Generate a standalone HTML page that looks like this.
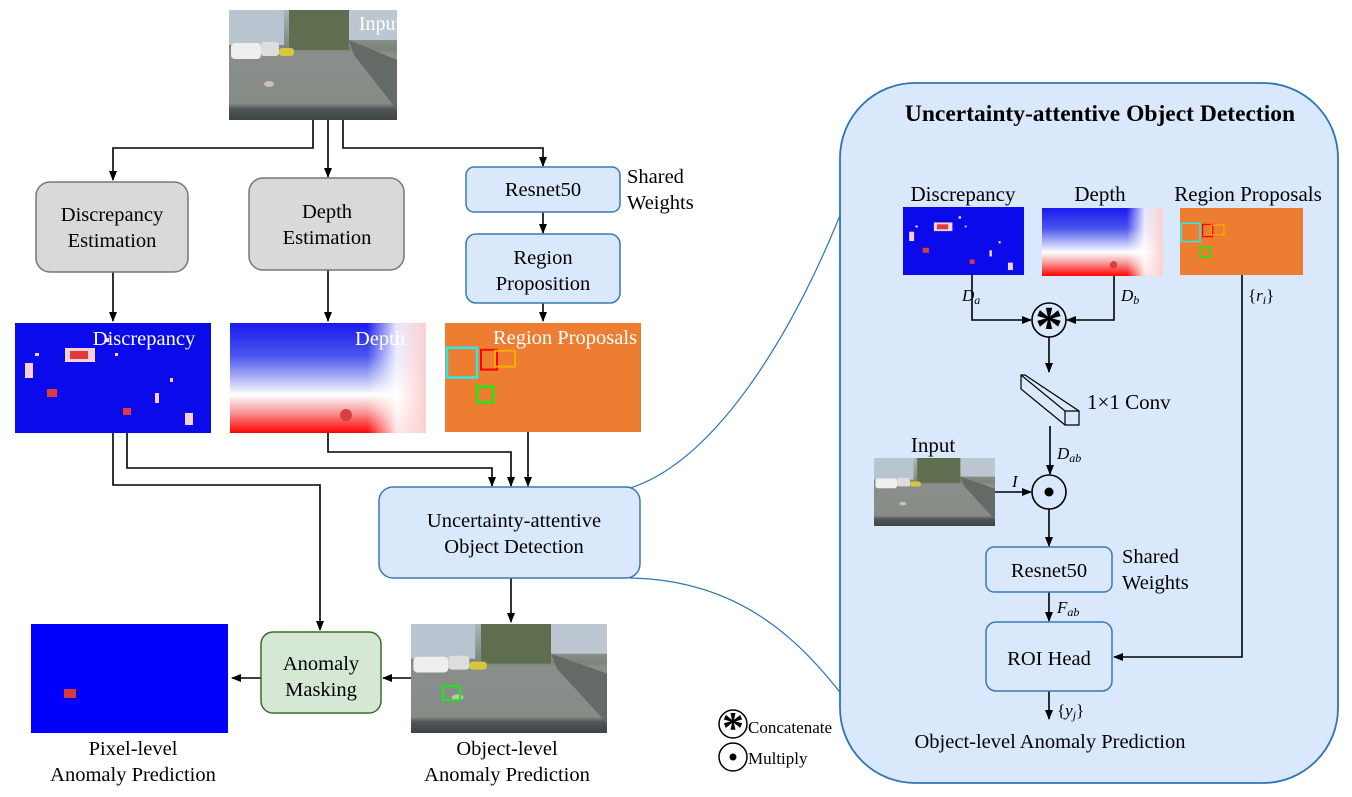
<!DOCTYPE html>
<html><head><meta charset="utf-8"><style>
body{margin:0;background:#fff}
svg{display:block;font-family:"Liberation Serif",serif}
</style></head><body>
<svg width="1352" height="797" viewBox="0 0 1352 797" xmlns="http://www.w3.org/2000/svg">
<defs>
<marker id="a" markerWidth="10" markerHeight="10" refX="9" refY="5" orient="auto" markerUnits="userSpaceOnUse"><path d="M0,1 L10,5 L0,9 Z" fill="#000"/></marker>
<linearGradient id="road" x1="0" y1="0" x2="0" y2="1"><stop offset="0" stop-color="#a9b4bf"/><stop offset="0.35" stop-color="#7d857a"/><stop offset="0.4" stop-color="#8a8f8c"/><stop offset="0.85" stop-color="#878b86"/><stop offset="0.9" stop-color="#4f5456"/><stop offset="1" stop-color="#3f4446"/></linearGradient>
<linearGradient id="dep" x1="0" y1="0" x2="0" y2="1"><stop offset="0" stop-color="#1a1aee"/><stop offset="0.3" stop-color="#4a55ee"/><stop offset="0.55" stop-color="#c8ccf8"/><stop offset="0.65" stop-color="#ffffff"/><stop offset="0.8" stop-color="#f7a0a0"/><stop offset="1" stop-color="#ff0000"/></linearGradient>
<linearGradient id="depR" x1="0" y1="0" x2="1" y2="0"><stop offset="0.7" stop-color="#fff" stop-opacity="0"/><stop offset="0.85" stop-color="#fff" stop-opacity="0.9"/><stop offset="1" stop-color="#fbd0d0" stop-opacity="1"/></linearGradient>
<symbol id="photo" viewBox="0 0 168 110" preserveAspectRatio="none">
<rect width="168" height="110" fill="url(#road)"/>
<rect x="0" y="0" width="55" height="35" fill="#b8c4d0"/>
<rect x="60" y="0" width="60" height="40" fill="#5f6e4e"/>
<rect x="120" y="0" width="48" height="30" fill="#bcc7d1"/>
<polygon points="120,30 168,50 168,100 125,45" fill="#666a66"/>
<rect x="2" y="33" width="30" height="16" rx="4" fill="#eee"/>
<rect x="32" y="32" width="18" height="14" rx="3" fill="#ddd"/>
<rect x="50" y="38" width="15" height="8" rx="3" fill="#d9c640"/>
<ellipse cx="40" cy="74" rx="5" ry="3" fill="#c9c0b3"/>
</symbol>
<symbol id="disc" viewBox="0 0 196 110" preserveAspectRatio="none">
<rect width="196" height="110" fill="#0a0aea"/>
<g fill="#f5d0d5"><rect x="50" y="25" width="30" height="14"/><rect x="10" y="40" width="8" height="15"/><rect x="170" y="90" width="8" height="12"/><rect x="140" y="70" width="4" height="10"/><rect x="90" y="15" width="4" height="4"/><rect x="100" y="30" width="3" height="3"/><rect x="155" y="55" width="3" height="4"/><rect x="20" y="30" width="4" height="3"/></g>
<g fill="#e03a3a"><rect x="55" y="28" width="18" height="8"/><rect x="32" y="66" width="10" height="8"/><rect x="108" y="85" width="8" height="7"/></g>
</symbol>
<symbol id="depth" viewBox="0 0 196 110" preserveAspectRatio="none">
<rect width="196" height="110" fill="url(#dep)"/>
<rect width="196" height="110" fill="url(#depR)"/>
<circle cx="116" cy="92" r="6" fill="#d84040"/>
</symbol>
<symbol id="reg" viewBox="0 0 196 110" preserveAspectRatio="none">
<rect width="196" height="110" fill="#ed7d31"/>
<rect x="2" y="25" width="30" height="30" fill="none" stroke="#22eeee" stroke-width="2.5"/>
<rect x="36" y="27" width="16" height="20" fill="none" stroke="#ff0000" stroke-width="2"/>
<rect x="50" y="28" width="20" height="16" fill="none" stroke="#ffaa00" stroke-width="2"/>
<rect x="32" y="64" width="16" height="16" fill="none" stroke="#11ee11" stroke-width="2.5"/>
</symbol>
</defs>

<use href="#photo" x="229" y="10" width="168" height="110"/>
<text x="380" y="30" font-size="20" fill="#fff" text-anchor="middle">Input</text>

<g stroke="#000" stroke-width="1.6" fill="none">
<path d="M313,120 V148 H113 V180" marker-end="url(#a)"/>
<path d="M328,120 V177" marker-end="url(#a)"/>
<path d="M343,120 V148 H543 V166" marker-end="url(#a)"/>
<path d="M113,272 V321" marker-end="url(#a)"/>
<path d="M328,270 V321" marker-end="url(#a)"/>
<path d="M543,212 V233" marker-end="url(#a)"/>
<path d="M543,303 V321" marker-end="url(#a)"/>
<path d="M113,433 V485 H320 V630" marker-end="url(#a)"/>
<path d="M127,433 V468 H492 V486" marker-end="url(#a)"/>
<path d="M328,433 V452 H511 V486" marker-end="url(#a)"/>
<path d="M528,432 V486" marker-end="url(#a)"/>
<path d="M511,578 V622" marker-end="url(#a)"/>
<path d="M411,678 H383" marker-end="url(#a)"/>
<path d="M261,678 H232" marker-end="url(#a)"/>
</g>

<rect x="36" y="182" width="152" height="90" rx="14" fill="#d9d9d9" stroke="#767676" stroke-width="1.5"/>
<text x="112" y="221" font-size="20.5" text-anchor="middle">Discrepancy</text>
<text x="112" y="247" font-size="20.5" text-anchor="middle">Estimation</text>
<rect x="249" y="178" width="155" height="92" rx="14" fill="#d9d9d9" stroke="#767676" stroke-width="1.5"/>
<text x="327" y="218" font-size="20.5" text-anchor="middle">Depth</text>
<text x="327" y="244" font-size="20.5" text-anchor="middle">Estimation</text>

<rect x="466" y="167" width="154" height="45" rx="8" fill="#dae8fc" stroke="#3a78b4" stroke-width="1.5"/>
<text x="543" y="196" font-size="20.5" text-anchor="middle">Resnet50</text>
<text x="627" y="183" font-size="20.5">Shared</text>
<text x="627" y="209" font-size="20.5">Weights</text>
<rect x="466" y="234" width="154" height="69" rx="10" fill="#dae8fc" stroke="#3a78b4" stroke-width="1.5"/>
<text x="543" y="264" font-size="20.5" text-anchor="middle">Region</text>
<text x="543" y="290" font-size="20.5" text-anchor="middle">Proposition</text>

<use href="#disc" x="15" y="323" width="196" height="110"/>
<text x="144" y="345" font-size="20.5" fill="#fff" text-anchor="middle">Discrepancy</text>
<use href="#depth" x="230" y="323" width="196" height="110"/>
<text x="380" y="345" font-size="20.5" fill="#fff" text-anchor="middle">Depth</text>
<use href="#reg" x="445" y="323" width="196" height="109"/>
<text x="565" y="344" font-size="20.5" fill="#fff" text-anchor="middle">Region Proposals</text>

<rect x="379" y="487" width="261" height="91" rx="14" fill="#dae8fc" stroke="#3a78b4" stroke-width="1.5"/>
<text x="514" y="527" font-size="20.5" text-anchor="middle">Uncertainty-attentive</text>
<text x="514" y="553" font-size="20.5" text-anchor="middle">Object Detection</text>

<use href="#photo" x="411" y="624" width="196" height="109"/>
<rect x="443" y="686" width="17" height="14" fill="none" stroke="#11ee11" stroke-width="2"/>
<rect x="261" y="632" width="120" height="81" rx="12" fill="#d5e8d4" stroke="#3f6d2c" stroke-width="1.5"/>
<text x="321" y="670" font-size="20.5" text-anchor="middle">Anomaly</text>
<text x="321" y="696" font-size="20.5" text-anchor="middle">Masking</text>
<rect x="31" y="624" width="197" height="109" fill="#0000fc"/>
<rect x="64" y="689" width="12" height="9" fill="#d83a3a"/>
<text x="133" y="755" font-size="20.5" text-anchor="middle">Pixel-level</text>
<text x="133" y="781" font-size="20.5" text-anchor="middle">Anomaly Prediction</text>
<text x="507" y="755" font-size="20.5" text-anchor="middle">Object-level</text>
<text x="507" y="781" font-size="20.5" text-anchor="middle">Anomaly Prediction</text>

<circle cx="733" cy="724" r="14" fill="none" stroke="#000" stroke-width="1.5"/>
<text x="733" y="742" font-size="44" font-weight="bold" text-anchor="middle">*</text>
<text x="748" y="733" font-size="17">Concatenate</text>
<circle cx="733" cy="757" r="14" fill="none" stroke="#000" stroke-width="1.5"/>
<circle cx="733" cy="757" r="3.5" fill="#000"/>
<text x="748" y="764" font-size="17">Multiply</text>

<path d="M630,488 C720,460 800,320 846,200" fill="none" stroke="#2e75b6" stroke-width="1.2"/>
<path d="M630,578 C740,580 800,640 846,700" fill="none" stroke="#2e75b6" stroke-width="1.2"/>

<rect x="840" y="83" width="498" height="700" rx="75" fill="#dae8fc" stroke="#2e75b6" stroke-width="1.8"/>
<text x="1100" y="121" font-size="23.5" font-weight="bold" text-anchor="middle">Uncertainty-attentive Object Detection</text>
<text x="963" y="201" font-size="21" text-anchor="middle">Discrepancy</text>
<text x="1100" y="201" font-size="21" text-anchor="middle">Depth</text>
<text x="1248" y="201" font-size="21" text-anchor="middle">Region Proposals</text>
<use href="#disc" x="903" y="207" width="121" height="68"/>
<use href="#depth" x="1042" y="208" width="121" height="68"/>
<use href="#reg" x="1180" y="208" width="123" height="67"/>

<g stroke="#000" stroke-width="1.6" fill="none">
<path d="M972,275 V320 H1031" marker-end="url(#a)"/>
<path d="M1114,276 V320 H1067" marker-end="url(#a)"/>
<path d="M1049,337 V372" marker-end="url(#a)"/>
<path d="M1050,426 V474" marker-end="url(#a)"/>
<path d="M995,492 H1031" marker-end="url(#a)"/>
<path d="M1049,509 V546" marker-end="url(#a)"/>
<path d="M1049,592 V621" marker-end="url(#a)"/>
<path d="M1242,275 V657 H1114" marker-end="url(#a)"/>
<path d="M1049,691 V719" marker-end="url(#a)"/>
</g>
<circle cx="1049" cy="320" r="17" fill="none" stroke="#000" stroke-width="1.6"/>
<text x="1049" y="345" font-size="56" font-weight="bold" text-anchor="middle">*</text>
<circle cx="1049" cy="492" r="17" fill="none" stroke="#000" stroke-width="1.6"/>
<circle cx="1049" cy="492" r="4.5" fill="#000"/>
<g fill="none" stroke="#000" stroke-width="1.2">
<path d="M1021,375 L1025,375 L1079,411 L1079,425 L1065,425 L1021,389 Z"/>
<path d="M1021,375 L1065,411 L1079,411 M1065,411 L1065,425"/>
</g>
<text x="1087" y="409" font-size="21">1×1 Conv</text>
<text x="962" y="301" font-size="17" font-style="italic">D<tspan font-size="12" dy="3">a</tspan></text>
<text x="1121" y="301" font-size="17" font-style="italic">D<tspan font-size="12" dy="3">b</tspan></text>
<text x="1248" y="301" font-size="17">{<tspan font-style="italic">r<tspan font-size="12" dy="3">i</tspan></tspan><tspan dy="-3">}</tspan></text>
<text x="1057" y="459" font-size="17" font-style="italic">D<tspan font-size="12" dy="3">ab</tspan></text>
<text x="1012" y="487" font-size="17" font-style="italic">I</text>
<text x="933" y="452" font-size="21" text-anchor="middle">Input</text>
<use href="#photo" x="874" y="458" width="121" height="68"/>
<rect x="986" y="547" width="126" height="45" rx="8" fill="#dae8fc" stroke="#3a78b4" stroke-width="1.5"/>
<text x="1049" y="577" font-size="20.5" text-anchor="middle">Resnet50</text>
<text x="1122" y="563" font-size="20.5">Shared</text>
<text x="1122" y="589" font-size="20.5">Weights</text>
<text x="1057" y="613" font-size="17" font-style="italic">F<tspan font-size="12" dy="3">ab</tspan></text>
<rect x="986" y="622" width="126" height="69" rx="10" fill="#dae8fc" stroke="#3a78b4" stroke-width="1.5"/>
<text x="1049" y="665" font-size="20.5" text-anchor="middle">ROI Head</text>
<text x="1057" y="716" font-size="17">{<tspan font-style="italic">y<tspan font-size="12" dy="3">j</tspan></tspan><tspan dy="-3">}</tspan></text>
<text x="1050" y="748" font-size="20.5" text-anchor="middle">Object-level Anomaly Prediction</text>
</svg>
</body></html>
